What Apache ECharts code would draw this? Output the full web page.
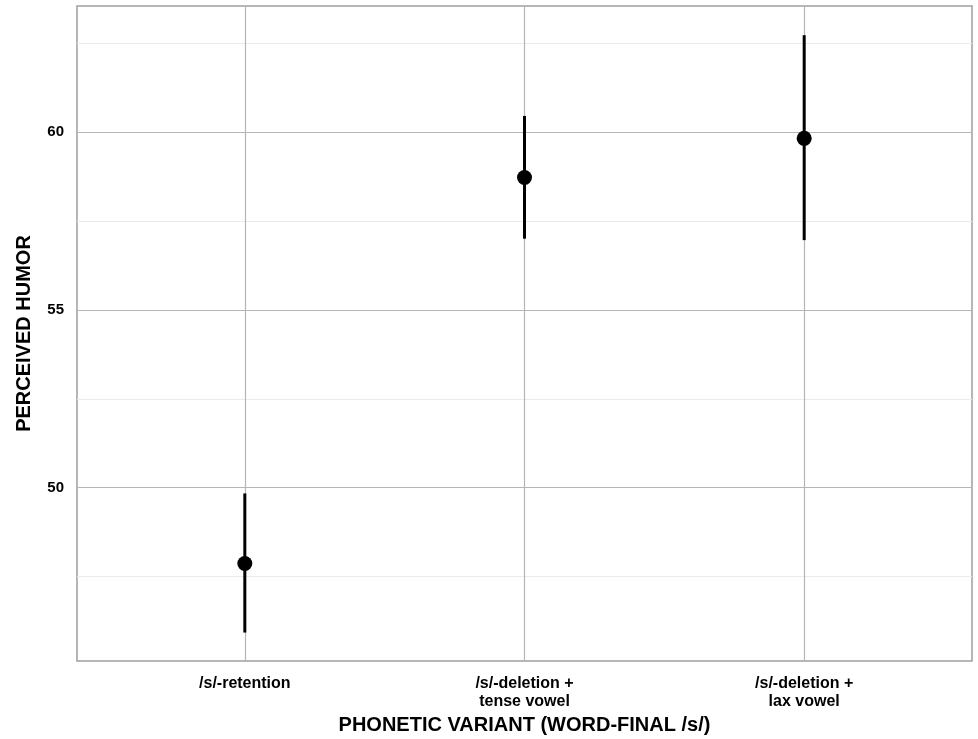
<!DOCTYPE html>
<html>
<head>
<meta charset="utf-8">
<script src="https://cdn.jsdelivr.net/npm/echarts@6/dist/echarts.min.js"></script>
<style>html,body{margin:0;padding:0;background:#fff}#c{width:978px;height:739px}</style>
</head>
<body>
<div id="c"></div>
<script>
// Data
const categories = ['/s/-retention', '/s/-deletion +\ntense vowel', '/s/-deletion +\nlax vowel'];
const meanValues = [47.87, 58.72, 59.82];
const lowerValues = [45.93, 57.00, 56.96];
const upperValues = [49.84, 60.45, 62.72];
const yTickLabels = [50, 55, 60];
const yMinorLines = [47.5, 52.5, 57.5, 62.5];
const xPositions = [1, 2, 3];

const FONT = 'Liberation Sans, Arial, sans-serif';
const chart = echarts.init(document.getElementById('c'), null, {renderer: 'canvas'});

const pointData = meanValues.map((v, i) => [xPositions[i], v]);
const errData = meanValues.map((v, i) => [xPositions[i], lowerValues[i], upperValues[i]]);

const option = {
  animation: false,
  backgroundColor: '#ffffff',
  grid: {
    left: 77, right: 6, top: 6, bottom: 78,
    containLabel: false, outerBoundsMode: 'none',
    show: true, borderColor: '#9e9e9e', borderWidth: 1.5, backgroundColor: '#ffffff'
  },
  xAxis: {
    type: 'value', min: 0.4, max: 3.6,
    name: 'PHONETIC VARIANT (WORD-FINAL /s/)',
    nameLocation: 'middle', nameGap: 53,
    nameTextStyle: {fontFamily: FONT, fontSize: 20, fontWeight: 'bold', color: '#000'},
    axisLine: {show: false}, axisTick: {show: false},
    splitLine: {show: false},
    axisLabel: {
      customValues: xPositions,
      formatter: v => categories[Math.round(v) - 1] || '',
      fontFamily: FONT, fontSize: 16, fontWeight: 'bold', color: '#000',
      lineHeight: 18, margin: 14
    }
  },
  yAxis: {
    type: 'value', min: 45.13, max: 63.54,
    name: 'PERCEIVED HUMOR',
    nameLocation: 'middle', nameGap: 43, nameRotate: 90,
    nameTextStyle: {fontFamily: FONT, fontSize: 20, fontWeight: 'bold', color: '#000'},
    axisLine: {show: false}, axisTick: {show: false},
    splitLine: {show: false},
    axisLabel: {
      customValues: yTickLabels,
      fontFamily: FONT, fontSize: 15, fontWeight: 'bold', color: '#000',
      margin: 13
    }
  },
  series: [
    {
      type: 'line', data: [], z: 1, silent: true,
      markLine: {
        z: 1,
        silent: true, symbol: 'none', label: {show: false}, animation: false,
        data: [
          ...yMinorLines.map(v => ({yAxis: v, lineStyle: {color: '#ebebeb', width: 1, type: 'solid'}})),
          ...yTickLabels.map(v => ({yAxis: v, lineStyle: {color: '#b5b5b5', width: 1.2, type: 'solid'}})),
          ...xPositions.map(v => ({xAxis: v, lineStyle: {color: '#b5b5b5', width: 1.2, type: 'solid'}}))
        ]
      }
    },
    {
      type: 'custom', z: 10,
      data: errData,
      encode: {x: 0, y: [1, 2]},
      renderItem: function (params, api) {
        const x = api.value(0);
        const p1 = api.coord([x, api.value(1)]);
        const p2 = api.coord([x, api.value(2)]);
        return {
          type: 'line',
          shape: {x1: p1[0], y1: p1[1], x2: p2[0], y2: p2[1]},
          style: {stroke: '#000', lineWidth: 3}
        };
      }
    },
    {
      type: 'scatter', z: 11,
      data: pointData,
      symbol: 'circle', symbolSize: 15,
      itemStyle: {color: '#000', opacity: 1}
    }
  ]
};
chart.setOption(option);
</script>
</body>
</html>
